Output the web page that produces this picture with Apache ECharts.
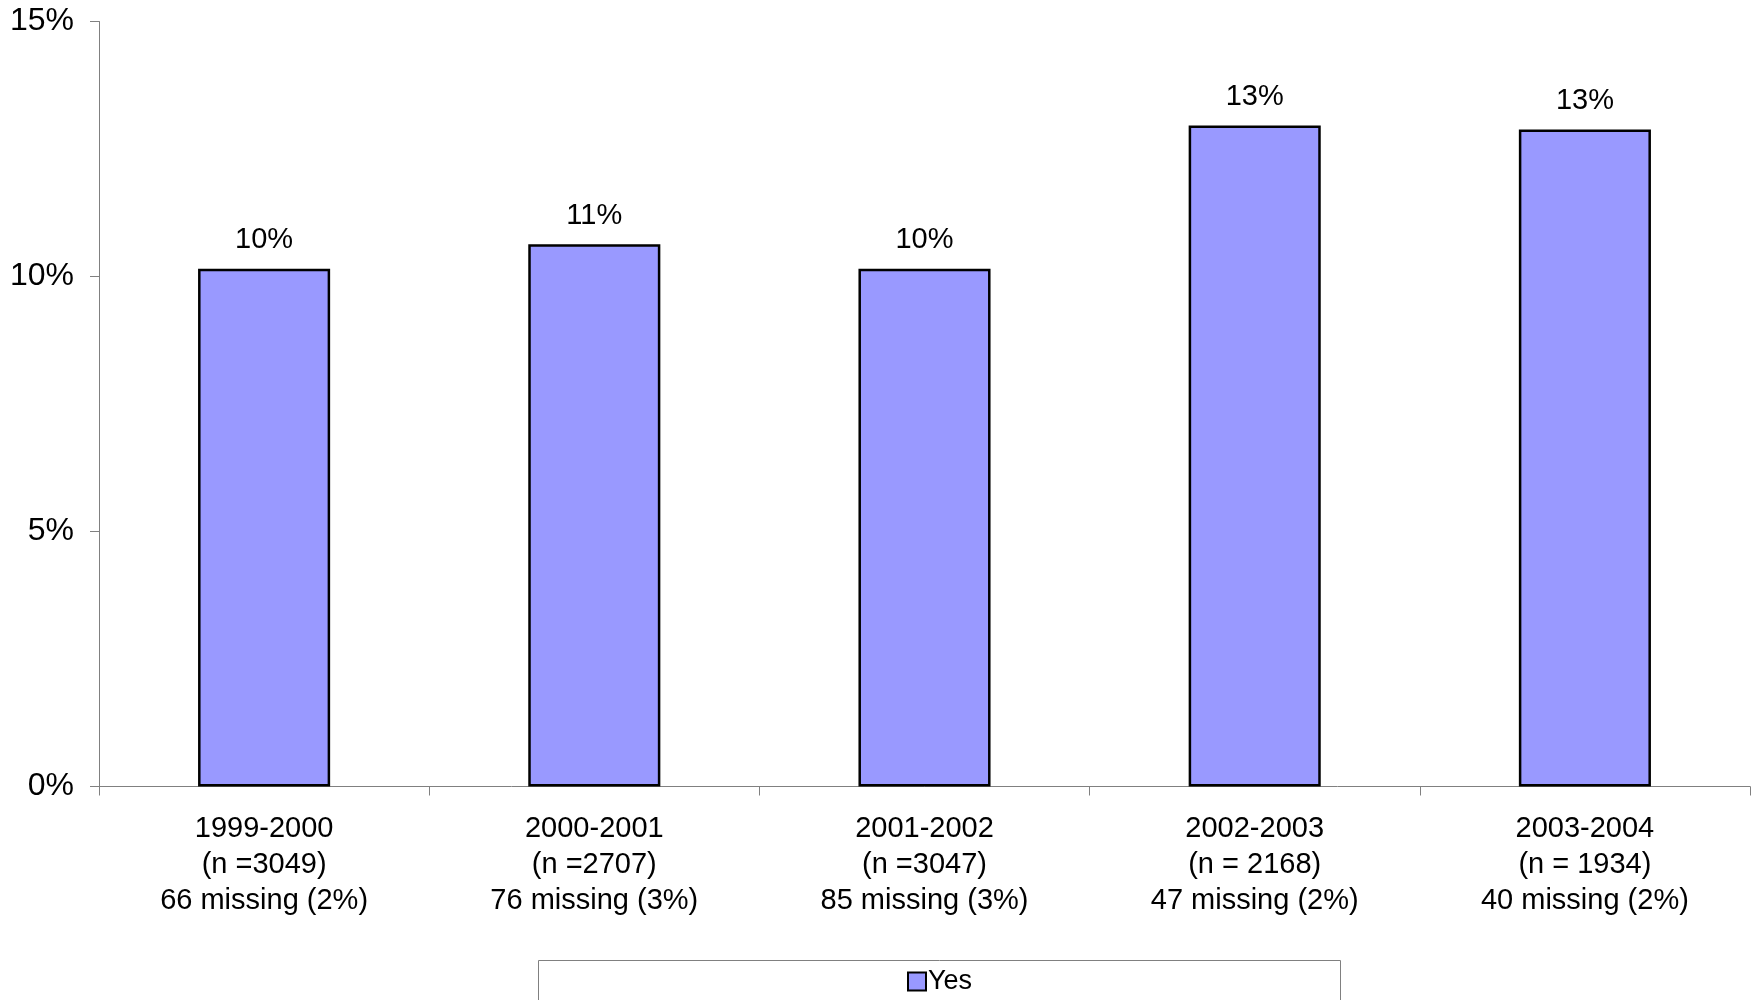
<!DOCTYPE html>
<html>
<head>
<meta charset="utf-8">
<script src="https://cdn.jsdelivr.net/npm/echarts@6/dist/echarts.min.js"></script>
<style>
html,body{margin:0;padding:0;background:#fff;}
#chart{width:1764px;height:1000px;}
</style>
</head>
<body>
<div id="chart"></div>
<script>
var periods = ['1999-2000', '2000-2001', '2001-2002', '2002-2003', '2003-2004'];
var nLabels = ['(n =3049)', '(n =2707)', '(n =3047)', '(n = 2168)', '(n = 1934)'];
var missingLabels = ['66 missing (2%)', '76 missing (3%)', '85 missing (3%)', '47 missing (2%)', '40 missing (2%)'];
var yesValues = [10.15, 10.63, 10.15, 12.96, 12.88];
var seriesName = 'Yes';

var categories = periods.map(function (p, i) {
  return p + '\n' + nLabels[i] + '\n' + missingLabels[i];
});

var FONT = '"Liberation Sans", Arial, sans-serif';
var chart = echarts.init(document.getElementById('chart'), null, {renderer: 'canvas'});
chart.setOption({
  animation: false,
  backgroundColor: '#ffffff',
  textStyle: {fontFamily: FONT},
  grid: {left: 99, right: 14, top: 21.5, bottom: 213.5, containLabel: false},
  xAxis: {
    type: 'category',
    data: categories,
    axisLine: {lineStyle: {color: '#808080', width: 1}},
    axisTick: {show: true, alignWithLabel: false, length: 9, lineStyle: {color: '#808080'}},
    axisLabel: {
      color: '#000', fontSize: 29, lineHeight: 36, margin: 24, fontFamily: FONT, interval: 0
    }
  },
  yAxis: {
    type: 'value',
    min: 0, max: 15, interval: 5,
    axisLine: {show: true, lineStyle: {color: '#808080', width: 1}},
    axisTick: {show: true, length: 9, lineStyle: {color: '#808080'}},
    splitLine: {show: false},
    axisLabel: {
      color: '#000', fontSize: 32, margin: 25, fontFamily: FONT,
      formatter: function (v) { return v + '%'; }
    }
  },
  legend: {
    data: [seriesName],
    left: 907, top: 968,
    padding: 0,
    itemWidth: 18, itemHeight: 18, itemGap: 0,
    icon: 'rect',
    textStyle: {fontSize: 27, color: '#000', fontFamily: FONT, padding: [0, 0, 0, -3]}
  },
  graphic: [{
    type: 'rect',
    shape: {x: 538.5, y: 960.5, width: 802, height: 60},
    style: {fill: 'none', stroke: '#808080', lineWidth: 1},
    silent: true
  }],
  series: [{
    name: seriesName,
    type: 'bar',
    data: yesValues,
    barWidth: '40%',
    itemStyle: {color: '#9999FF', borderColor: '#000', borderWidth: 2.5},
    label: {
      show: true, position: 'top', distance: 14,
      fontSize: 29, color: '#000', fontFamily: FONT,
      formatter: function (p) { return Math.round(p.value) + '%'; }
    }
  }]
});
</script>
</body>
</html>
